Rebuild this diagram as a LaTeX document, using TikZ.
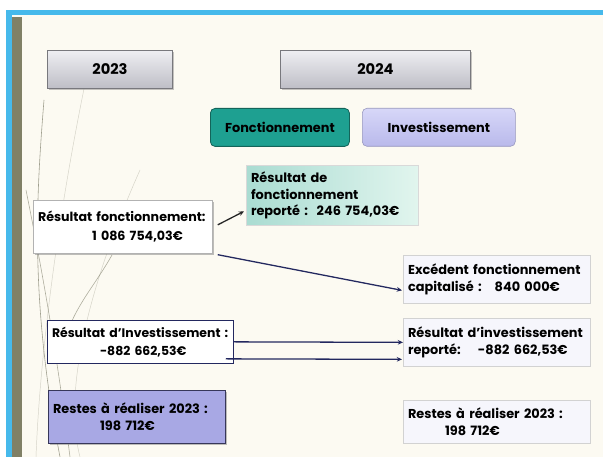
\documentclass[tikz,border=0pt]{standalone}
\usepackage{fontspec}
\setmainfont{Poppins}
\usetikzlibrary{arrows.meta, shadows}
\definecolor{slideblue}{RGB}{70,185,235}
\definecolor{slideolive}{RGB}{128,128,102}
\definecolor{slidebg}{RGB}{252,250,242}
\definecolor{curvegray}{RGB}{120,120,100}
\definecolor{yeartop}{RGB}{238,238,242}
\definecolor{yearbot}{RGB}{190,190,198}
\definecolor{yearedge}{RGB}{120,120,125}
\definecolor{fonctteal}{RGB}{30,160,145}
\definecolor{fonctedge}{RGB}{20,100,90}
\definecolor{invtop}{RGB}{215,215,248}
\definecolor{invbot}{RGB}{185,185,235}
\definecolor{invedge}{RGB}{150,150,190}
\definecolor{mintleft}{RGB}{170,220,210}
\definecolor{mintright}{RGB}{225,245,238}
\definecolor{paleblue}{RGB}{246,246,252}
\definecolor{restfill}{RGB}{168,168,228}
\definecolor{restedge}{RGB}{55,55,90}
\definecolor{navy}{RGB}{35,40,95}
\tikzset{
  yearbox/.style={rectangle, draw=yearedge, top color=yeartop, bottom color=yearbot,
    minimum height=1.14cm, anchor=north west, line width=0.8pt,
    font=\fontsize{12.5}{15}\selectfont\bfseries,
    drop shadow={shadow xshift=1pt, shadow yshift=-1.5pt, opacity=0.45}},
  fonctbox/.style={rectangle, draw=fonctedge, fill=fonctteal, rounded corners=4pt,
    minimum height=1.14cm, anchor=north west, line width=0.7pt},
  invbox/.style={rectangle, draw=invedge, top color=invtop, bottom color=invbot,
    rounded corners=4pt, minimum height=1.14cm, anchor=north west, line width=0.5pt},
  valbox/.style={rectangle, anchor=north west, align=left, inner xsep=4pt,
    inner ysep=0pt, line width=0.6pt},
  arrow/.style={-{Stealth[length=4.5pt, width=4pt]}, line width=1.1pt, color=navy}
}
\begin{document}
\begin{tikzpicture}[x=0.03cm, y=-0.03cm, font=\fontsize{11}{15}\selectfont\bfseries]
  \useasboundingbox (0,0) rectangle (603,457);
  % slide background
  \fill[white] (0,0) rectangle (603,457);
  \fill[slidebg] (11,15) rectangle (603,457);
  \fill[slideblue] (6,10) rectangle (603,15);
  \fill[slideblue] (6,10) rectangle (12,457);
  \fill[slideolive] (12,17) rectangle (22,457);
  % faint curves
  \draw[curvegray, line width=0.5pt, opacity=0.7] (44,100) .. controls (36,200) and (30,300) .. (60,457);
  \draw[curvegray, line width=0.5pt, opacity=0.6] (26,190) .. controls (40,260) and (55,340) .. (70,457);
  \draw[curvegray, line width=0.5pt, opacity=0.6] (112,255) .. controls (95,285) and (80,300) .. (68,330);
  \draw[curvegray, line width=0.4pt, opacity=0.3] (90,60) .. controls (60,200) and (40,350) .. (36,457);
  \draw[curvegray, line width=0.4pt, opacity=0.3] (140,170) .. controls (100,260) and (60,380) .. (80,457);

  % headers
  \node[yearbox, minimum width=3.75cm] (y23) at (47,50) {2023};
  \node[yearbox, minimum width=5.7cm] (y24) at (280,50) {2024};
  \node[fonctbox, minimum width=4.17cm] (fonct) at (210,108) {Fonctionnement};
  \node[invbox, minimum width=4.59cm] (inv) at (362,108) {Investissement};

  % 2023 values
  \node[valbox, draw=gray!60, fill=white, text width=5.09cm, minimum height=1.59cm,
    font=\fontsize{10.8}{16}\selectfont\bfseries,
    drop shadow={shadow xshift=1.5pt, shadow yshift=-1.5pt, opacity=0.5}] (rf) at (33,200)
    {\mbox{Résultat fonctionnement:}\\\hspace*{1.62cm}\mbox{1 086 754,03€}};
  \node[valbox, draw=navy, fill=white, text width=5.3cm, minimum height=1.29cm,
    font=\fontsize{10.6}{15}\selectfont\bfseries] (ri) at (47,320)
    {\mbox{Résultat d'Investissement :}\\\hspace*{1.44cm}\mbox{-882 662,53€}};
  \node[valbox, draw=restedge, fill=restfill, text width=5.03cm, minimum height=1.59cm,
    drop shadow={shadow xshift=1.5pt, shadow yshift=-1.5pt, opacity=0.5}] (rl) at (48,390)
    {\mbox{Restes à réaliser 2023 :}\\\hspace*{1.41cm}\mbox{198 712€}};

  % 2024 values
  \node[valbox, draw=gray!30, left color=mintleft, right color=mintright, text width=4.88cm,
    minimum height=1.8cm, font=\fontsize{11}{14}\selectfont\bfseries] (rr) at (246,165)
    {Résultat de\\fonctionnement\\\mbox{reporté :\ \ 246 754,03€}};
  \node[valbox, draw=gray!35, fill=paleblue, text width=5.33cm, minimum height=1.44cm] (ex) at (403,255)
    {\mbox{Excédent fonctionnement}\\\mbox{capitalisé :\ \ \ 840 000€}};
  \node[valbox, draw=gray!35, fill=paleblue, text width=5.33cm, minimum height=1.44cm] (rir) at (403,318)
    {\mbox{Résultat d'investissement}\\\mbox{reporté:\ \ \ \ -882 662,53€}};
  \node[valbox, draw=gray!35, fill=paleblue, text width=5.33cm, minimum height=1.29cm] (rrr) at (403,400)
    {\mbox{Restes à réaliser 2023 :}\\\hspace*{1.11cm}\mbox{198 712€}};

  % transfers
  \draw[arrow, color=black!85] ([shift={(5,-2)}]rf.east) -- ([shift={(-2,16)}]rr.west);
  \draw[arrow] ([shift={(5,1)}]rf.south east) -- ([shift={(-1,11)}]ex.west);
  \draw[arrow] (ri.east) -- (rir.west);
  \draw[arrow] ([shift={(-8,17)}]ri.east) -- ([shift={(-1,17)}]rir.west);
\end{tikzpicture}
\end{document}
